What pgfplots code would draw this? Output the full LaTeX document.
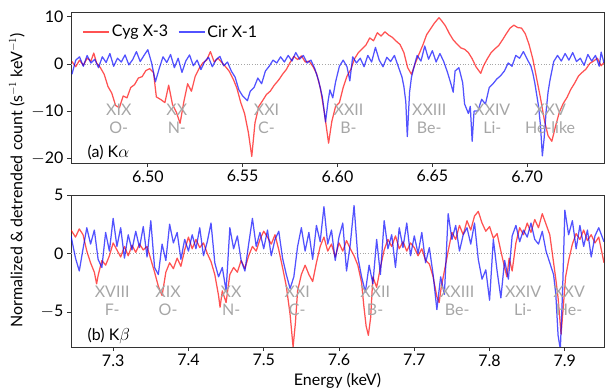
\documentclass[border=0pt]{standalone}
\usepackage{fontspec}
\setmainfont{Lato}
\usepackage{pgfplots}
\pgfplotsset{compat=1.18}

\begin{document}
\begin{tikzpicture}[font=\fontsize{16}{19}\selectfont]
\pgfplotsset{
  panel/.style={
    scale only axis, width=533pt,
    axis line style={black!80, line width=0.8pt},
    every tick/.style={black!80, line width=0.8pt},
    tick align=outside, major tick length=4pt,
    xtick pos=bottom, ytick pos=left,
    tick label style={font=\fontsize{16}{19}\selectfont},
  },
  cyg/.style={red, draw opacity=0.68, line width=1.25pt, line join=round},
  cir/.style={blue, draw opacity=0.68, line width=1.25pt, line join=round},
  zero/.style={forget plot, gray!70, dotted, line width=0.7pt},
}
\tikzset{ion/.style={text=gray!70, align=center, font=\fontsize{16}{18}\selectfont, inner sep=0pt}}

% ---------------- (a) K alpha ----------------
\begin{axis}[panel, height=151pt, at={(71pt,227pt)}, anchor=south west,
  xmin=6.4595, xmax=6.7405, ymin=-21, ymax=11,
  xtick={6.50,6.55,6.60,6.65,6.70}, xticklabels={6.50,6.55,6.60,6.65,6.70},
  ytick={-20,-10,0,10}, yticklabels={{$-$20},{$-$10},0,10},
  legend columns=2,
  legend style={at={(0.016,0.868)}, anchor=west, draw=none, fill=none,
    font=\fontsize{16}{19}\selectfont,
    /tikz/every even column/.append style={column sep=8pt}},
  legend image code/.code={\draw[#1] (0pt,0pt) -- (26pt,0pt);},
]
\addplot[zero] coordinates {(6.4595,0) (6.7405,0)};
\addplot[cyg] coordinates {
(6.4600,0.5) (6.4620,-0.6) (6.4640,0.8) (6.4660,-0.3) (6.4680,1.2) (6.4700,0.6) (6.4715,2.3) (6.4730,0.2) (6.4750,-0.8) (6.4770,-2.2)
(6.4790,-4.8) (6.4810,-6.2) (6.4830,-8.8) (6.4850,-9.3) (6.4870,-6.8) (6.4890,-7.2) (6.4910,-5.0) (6.4930,-4.4) (6.4950,-3.0) (6.4970,-2.7)
(6.4990,-1.4) (6.5010,-1.0) (6.5030,-1.8) (6.5045,-7.0) (6.5070,-7.6) (6.5090,-8.2) (6.5110,-4.5) (6.5130,-8.6) (6.5150,-10.2) (6.5170,-12.6)
(6.5190,-8.0) (6.5210,-4.2) (6.5230,-5.8) (6.5250,-2.6) (6.5270,-1.0) (6.5290,0.2) (6.5310,0.8) (6.5330,2.6) (6.5350,0.4) (6.5370,1.2)
(6.5390,0.3) (6.5410,-0.6) (6.5430,-1.6) (6.5450,-3.2) (6.5470,-5.2) (6.5490,-8.2) (6.5510,-10.5) (6.5530,-14.5) (6.5548,-19.6) (6.5565,-12.5)
(6.5585,-9.0) (6.5605,-7.8) (6.5625,-6.5) (6.5645,-5.8) (6.5665,-4.6) (6.5690,-3.4) (6.5710,-2.2) (6.5730,-1.2) (6.5750,0.3) (6.5770,1.6)
(6.5790,0.9) (6.5810,1.7) (6.5830,0.4) (6.5850,0.6) (6.5870,-0.5) (6.5890,-2.1) (6.5910,-5.2) (6.5930,-10.1) (6.5953,-16.8) (6.5970,-12.2)
(6.5990,-9.0) (6.6010,-8.2) (6.6030,-5.0) (6.6050,-2.6) (6.6070,-1.2) (6.6090,1.1) (6.6110,2.4) (6.6130,3.2) (6.6150,4.0) (6.6170,5.5)
(6.6190,4.9) (6.6210,6.6) (6.6230,5.9) (6.6250,6.8) (6.6270,6.1) (6.6290,5.6) (6.6310,4.8) (6.6330,4.1) (6.6350,2.4) (6.6370,-0.8)
(6.6390,-2.2) (6.6410,0.1) (6.6430,2.1) (6.6450,4.0) (6.6470,6.2) (6.6490,7.4) (6.6510,8.6) (6.6535,9.8) (6.6550,9.1) (6.6570,8.0)
(6.6590,6.4) (6.6610,5.1) (6.6630,4.2) (6.6650,3.4) (6.6670,3.1) (6.6690,2.4) (6.6710,1.1) (6.6730,-0.6) (6.6755,-2.0) (6.6770,-0.4)
(6.6790,1.1) (6.6810,2.4) (6.6830,3.2) (6.6850,3.9) (6.6870,5.1) (6.6890,6.4) (6.6910,7.6) (6.6930,8.2) (6.6950,7.7) (6.6970,7.6)
(6.6990,6.4) (6.7010,4.1) (6.7030,1.0) (6.7050,-3.1) (6.7070,-7.2) (6.7090,-11.8) (6.7110,-15.2) (6.7130,-16.4) (6.7150,-13.1) (6.7170,-10.2)
(6.7190,-8.4) (6.7210,-7.1) (6.7230,-5.4) (6.7250,-4.1) (6.7270,-2.6) (6.7290,-1.8) (6.7310,-1.1) (6.7330,0.1) (6.7350,0.6) (6.7370,1.2)
(6.7390,-0.4) (6.7405,0.3)
};
\addlegendentry{Cyg X-3}
\addplot[cir] coordinates {
(6.4600,-2.2) (6.4620,0.8) (6.4640,1.5) (6.4660,-0.5) (6.4680,1.8) (6.4700,0.2) (6.4720,1.0) (6.4740,-0.8) (6.4760,1.5) (6.4780,0.3)
(6.4800,2.2) (6.4820,-0.5) (6.4840,1.2) (6.4860,0.4) (6.4880,1.9) (6.4900,-0.2) (6.4920,0.9) (6.4940,2.6) (6.4960,0.5) (6.4980,1.8)
(6.5000,3.0) (6.5020,0.2) (6.5040,-3.8) (6.5060,-1.0) (6.5080,1.5) (6.5100,0.3) (6.5120,2.0) (6.5140,-0.8) (6.5160,1.2) (6.5180,-1.8)
(6.5200,0.6) (6.5220,1.9) (6.5240,-0.4) (6.5260,0.8) (6.5280,-1.2) (6.5300,0.5) (6.5320,1.4) (6.5340,-0.6) (6.5360,0.9) (6.5380,1.6)
(6.5400,-0.4) (6.5420,0.4) (6.5440,-1.5) (6.5460,-2.8) (6.5480,-5.5) (6.5500,-6.8) (6.5525,-7.8) (6.5540,-5.8) (6.5560,-5.0) (6.5580,-3.0)
(6.5600,-4.2) (6.5620,-1.5) (6.5640,-0.5) (6.5660,0.8) (6.5680,0.2) (6.5700,1.5) (6.5720,0.4) (6.5740,1.8) (6.5760,0.6) (6.5780,2.4)
(6.5800,1.0) (6.5820,1.8) (6.5840,0.2) (6.5860,0.8) (6.5880,-1.0) (6.5900,-3.5) (6.5920,-7.0) (6.5937,-12.3) (6.5950,-8.0) (6.5960,-5.5)
(6.5975,-7.2) (6.5990,-3.8) (6.6010,-0.5) (6.6030,0.8) (6.6050,-0.6) (6.6065,-3.6) (6.6080,1.5) (6.6100,0.2) (6.6120,1.2) (6.6140,-0.6)
(6.6160,1.8) (6.6180,0.4) (6.6200,3.5) (6.6220,0.8) (6.6240,-0.6) (6.6260,1.4) (6.6280,0.5) (6.6300,1.8) (6.6320,-0.5) (6.6340,-2.8)
(6.6350,-4.8) (6.6360,-8.0) (6.6368,-15.4) (6.6380,-6.0) (6.6390,-2.8) (6.6410,0.4) (6.6420,1.8) (6.6440,0.6) (6.6460,3.8) (6.6480,1.0)
(6.6500,2.8) (6.6520,0.4) (6.6540,2.2) (6.6560,0.5) (6.6580,-1.8) (6.6600,-4.5) (6.6610,-6.0) (6.6620,-1.5) (6.6640,-0.8) (6.6660,-4.0)
(6.6670,-8.5) (6.6690,-10.5) (6.6700,-9.0) (6.6710,-16.4) (6.6720,-10.0) (6.6740,-10.0) (6.6760,-7.5) (6.6780,-8.5) (6.6800,-5.0) (6.6820,-4.2)
(6.6840,-3.2) (6.6860,-2.5) (6.6880,-1.5) (6.6900,0.2) (6.6920,-0.5) (6.6940,1.8) (6.6960,1.2) (6.6980,2.6) (6.7000,1.0) (6.7020,-0.5)
(6.7030,-2.0) (6.7040,-4.0) (6.7050,-6.5) (6.7060,-9.0) (6.7070,-13.0) (6.7080,-19.5) (6.7090,-15.5) (6.7100,-10.0) (6.7110,-6.0) (6.7120,-3.5)
(6.7140,0.5) (6.7160,1.8) (6.7180,0.6) (6.7200,2.2) (6.7220,0.8) (6.7240,2.4) (6.7260,0.5) (6.7280,1.2) (6.7300,-0.3) (6.7320,2.0)
(6.7340,0.6) (6.7360,1.8) (6.7380,-0.5) (6.7390,2.5) (6.7405,0.2)
};
\addlegendentry{Cir X-1}
\node[ion] at (axis cs:6.4847,-11.6) {XIX\\O-};
\node[ion] at (axis cs:6.5153,-11.6) {XX\\N-};
\node[ion] at (axis cs:6.5626,-11.6) {XXI\\C-};
\node[ion] at (axis cs:6.6058,-11.6) {XXII\\B-};
\node[ion] at (axis cs:6.6484,-11.6) {XXIII\\Be-};
\node[ion] at (axis cs:6.6816,-11.6) {XXIV\\Li-};
\node[ion] at (axis cs:6.7121,-11.6) {XXV\\He-like};
\node[anchor=west, inner sep=0pt] at (rel axis cs:0.031,0.073) {(a) K$\alpha$};
\end{axis}

% ---------------- (b) K beta ----------------
\begin{axis}[panel, height=152pt, at={(71pt,43pt)}, anchor=south west,
  xmin=7.244, xmax=7.952, ymin=-8, ymax=5,
  xtick={7.3,7.4,7.5,7.6,7.7,7.8,7.9}, xticklabels={7.3,7.4,7.5,7.6,7.7,7.8,7.9},
  ytick={-5,0,5}, yticklabels={{$-$5},0,5},
]
\addplot[zero] coordinates {(7.244,0) (7.952,0)};
\addplot[cyg] coordinates {
(7.244,2.0) (7.250,1.4) (7.255,2.1) (7.260,1.6) (7.265,0.2) (7.270,-0.8) (7.275,-1.6) (7.278,-2.6) (7.280,-1.9) (7.285,-0.6)
(7.290,-1.0) (7.295,-0.2) (7.300,0.9) (7.305,0.3) (7.310,-0.3) (7.315,0.6) (7.320,-0.2) (7.325,0.7) (7.330,0.1) (7.335,0.8)
(7.340,0.3) (7.345,0.6) (7.350,-0.5) (7.355,-1.6) (7.360,-2.8) (7.365,-3.6) (7.370,-1.6) (7.375,-0.8) (7.380,-1.3) (7.385,-0.4)
(7.390,-1.1) (7.395,0.3) (7.400,1.4) (7.405,0.4) (7.410,1.2) (7.415,0.5) (7.420,0.9) (7.425,0.0) (7.430,-0.7) (7.435,-1.8)
(7.440,-3.6) (7.442,-4.6) (7.445,-3.2) (7.450,-4.2) (7.455,-1.8) (7.460,-1.2) (7.465,-1.6) (7.470,-0.6) (7.475,-1.3) (7.480,-0.2)
(7.485,0.6) (7.490,0.2) (7.495,1.2) (7.500,1.9) (7.505,1.4) (7.510,0.8) (7.515,1.6) (7.520,0.3) (7.525,-1.2) (7.530,-2.8)
(7.535,-5.2) (7.539,-8.0) (7.542,-6.0) (7.545,-3.2) (7.550,-1.8) (7.555,-1.0) (7.560,-1.8) (7.565,-2.4) (7.570,-0.8) (7.575,0.6)
(7.580,1.4) (7.585,0.2) (7.590,0.8) (7.595,-0.3) (7.600,0.9) (7.605,0.2) (7.610,1.1) (7.615,0.4) (7.620,-0.2) (7.625,-1.0)
(7.630,-2.5) (7.633,-4.5) (7.636,-6.2) (7.639,-7.0) (7.642,-5.5) (7.645,-2.0) (7.650,-2.9) (7.655,-1.2) (7.660,0.3) (7.665,1.2)
(7.670,0.6) (7.675,1.5) (7.680,0.4) (7.685,1.0) (7.690,0.2) (7.695,0.9) (7.700,0.5) (7.705,-0.2) (7.710,0.4) (7.715,-0.6)
(7.720,-0.9) (7.725,-2.0) (7.730,-3.7) (7.733,-4.2) (7.736,-2.8) (7.740,-1.5) (7.745,0.2) (7.750,1.8) (7.755,1.2) (7.760,2.4)
(7.765,1.6) (7.770,2.8) (7.775,2.0) (7.780,3.2) (7.785,3.6) (7.790,2.6) (7.795,1.9) (7.800,2.3) (7.805,1.3) (7.810,1.7)
(7.815,0.2) (7.820,-1.2) (7.823,-2.0) (7.826,-0.4) (7.830,-1.5) (7.835,0.9) (7.840,2.2) (7.845,1.6) (7.850,2.6) (7.855,1.8)
(7.860,2.9) (7.865,2.2) (7.870,3.4) (7.875,2.5) (7.880,1.6) (7.884,-0.3) (7.888,-2.2) (7.891,-3.8) (7.895,-6.9) (7.898,-4.5)
(7.901,-2.0) (7.905,-0.6) (7.910,0.8) (7.915,1.7) (7.920,1.2) (7.925,2.0) (7.930,1.1) (7.935,1.6) (7.940,0.9) (7.945,1.4)
(7.952,-0.8)
};
\addplot[cir] coordinates {
(7.244,1.5) (7.250,-0.4) (7.255,-1.5) (7.260,0.4) (7.265,2.2) (7.270,0.8) (7.275,2.0) (7.280,-0.5) (7.285,-1.2) (7.290,1.8)
(7.295,0.2) (7.300,3.0) (7.305,0.6) (7.310,2.2) (7.315,-0.4) (7.320,1.6) (7.325,0.3) (7.330,1.9) (7.335,0.5) (7.340,2.3)
(7.345,-0.3) (7.350,2.8) (7.355,-1.2) (7.360,-1.8) (7.365,0.8) (7.370,-0.6) (7.375,2.5) (7.380,0.9) (7.385,1.8) (7.390,-0.5)
(7.395,1.2) (7.400,0.2) (7.405,1.6) (7.410,0.4) (7.415,2.2) (7.420,-0.2) (7.425,1.0) (7.430,2.6) (7.435,-0.8) (7.440,-2.0)
(7.445,-1.2) (7.450,-3.2) (7.455,2.2) (7.460,0.4) (7.465,1.5) (7.470,-0.6) (7.475,-1.5) (7.480,0.8) (7.485,3.0) (7.490,0.6)
(7.495,1.8) (7.500,0.4) (7.505,2.0) (7.510,-0.2) (7.515,1.2) (7.520,1.9) (7.525,-0.4) (7.530,-1.8) (7.535,-3.0) (7.540,-2.0)
(7.545,0.6) (7.550,2.2) (7.555,0.2) (7.560,1.8) (7.565,-0.5) (7.570,2.4) (7.575,1.0) (7.580,4.0) (7.585,0.8) (7.590,2.0)
(7.595,-0.6) (7.600,1.4) (7.605,2.6) (7.610,-1.5) (7.615,0.8) (7.620,4.1) (7.625,-0.3) (7.630,-2.0) (7.635,-3.3) (7.640,-1.0)
(7.645,-2.6) (7.650,1.2) (7.655,-1.8) (7.660,2.8) (7.665,0.4) (7.670,1.6) (7.675,-1.2) (7.680,2.2) (7.685,0.5) (7.690,2.6)
(7.695,-0.2) (7.700,1.5) (7.705,0.0) (7.710,1.8) (7.715,-0.8) (7.720,0.5) (7.725,-1.8) (7.730,-4.8) (7.735,-2.0) (7.740,-3.5)
(7.745,3.4) (7.750,1.2) (7.755,2.4) (7.760,0.2) (7.765,1.6) (7.770,2.2) (7.775,0.8) (7.780,2.6) (7.785,-0.5) (7.790,-2.2)
(7.795,-1.4) (7.800,-4.0) (7.805,1.2) (7.810,-1.5) (7.815,-3.8) (7.820,-0.6) (7.825,-2.2) (7.830,1.5) (7.835,2.4) (7.840,1.0)
(7.845,2.0) (7.850,1.4) (7.855,2.6) (7.860,1.2) (7.865,0.8) (7.870,1.9) (7.875,0.2) (7.880,-0.8) (7.885,-1.8) (7.888,-3.5)
(7.891,-7.0) (7.894,-8.2) (7.897,-3.2) (7.900,3.7) (7.905,1.6) (7.910,2.8) (7.915,0.4) (7.920,2.4) (7.925,0.6) (7.930,2.0)
(7.935,-0.3) (7.940,1.5) (7.945,2.2) (7.952,1.0)
};
\node[ion] at (axis cs:7.2987,-4.06) {XVIII\\F-};
\node[ion] at (axis cs:7.3730,-4.06) {XIX\\O-};
\node[ion] at (axis cs:7.4567,-4.06) {XX\\N-};
\node[ion] at (axis cs:7.5444,-4.06) {XXI\\C-};
\node[ion] at (axis cs:7.6480,-4.06) {XXII\\B-};
\node[ion] at (axis cs:7.7570,-4.06) {XXIII\\Be-};
\node[ion] at (axis cs:7.8445,-4.06) {XXIV\\Li-};
\node[ion] at (axis cs:7.9056,-4.06) {XXV\\He-};
\node[anchor=west, inner sep=0pt] at (rel axis cs:0.031,0.072) {(b) K$\beta$};
\end{axis}

\node[rotate=90] at (17pt,210pt) {Normalized \& detrended count (s$^{-1}$ keV$^{-1}$)};
\node at (337.5pt,9pt) {Energy (keV)};

\pgfresetboundingbox
\path[use as bounding box] (0,0) rectangle (611pt,390pt);
\end{tikzpicture}
\end{document}
